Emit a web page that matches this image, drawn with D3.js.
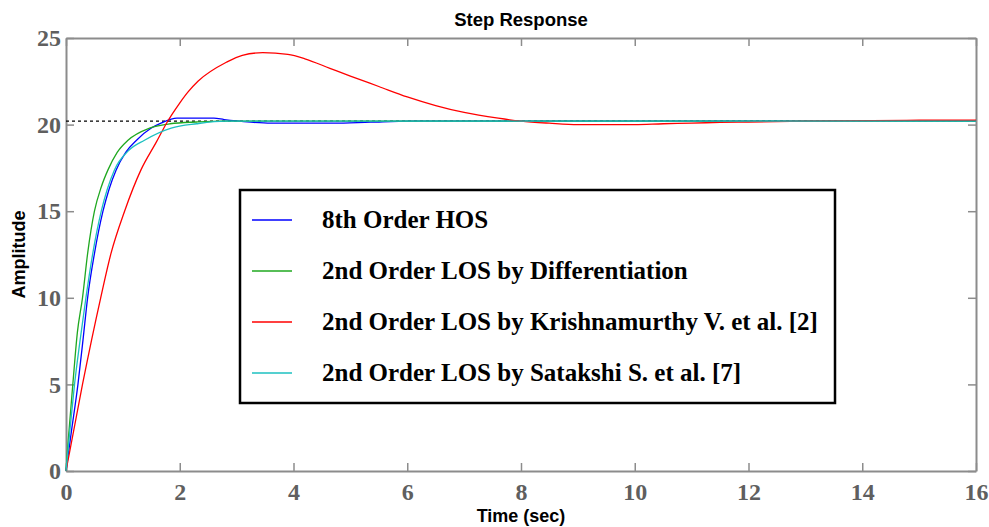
<!doctype html>
<html lang="en">
<head>
<meta charset="utf-8">
<title>Step Response</title>
<script src="https://d3js.org/d3.v7.min.js"></script>
<style>
  body { margin: 0; background: #fff; }
  .tick-label { font-family: "Liberation Serif", "Times New Roman", serif; font-weight: bold; fill: #5f5f5f; }
  .ax-title { font-family: "Liberation Sans", Arial, sans-serif; font-weight: bold; fill: #000; }
  .legend-text { font-family: "Liberation Serif", "Times New Roman", serif; font-weight: bold; fill: #000; }
</style>
</head>
<body>
<svg width="989" height="527"></svg>
<script>
// step responses as [time, amplitude]
const hos8 = [[0,0],[0.1,2.4],[0.21,5.0],[0.3,7.6],[0.38,10.0],[0.5,12.55],[0.65,15.0],[0.76,16.3],
  [0.88,17.37],[1.05,18.4],[1.24,19.1],[1.5,19.8],[1.68,20.1],[1.95,20.37],[2.6,20.37],[2.78,20.29],
  [3.0,20.21],[3.25,20.14],[3.6,20.08],[4.7,20.08],[5.35,20.14],[6.05,20.2],[16,20.2]];
const losDiff = [[0,0],[0.04,1.8],[0.12,5.0],[0.2,8.0],[0.29,10.0],[0.38,12.55],[0.5,15.0],[0.62,16.4],
  [0.74,17.4],[0.9,18.4],[1.09,19.1],[1.47,19.8],[1.83,20.05],[2.3,20.15],[2.76,20.2],[16,20.2]];
const losKrish = [[0,0],[0.29,5.0],[0.61,10.0],[0.79,12.55],[1.03,15.0],[1.32,17.4],[1.59,19.0],
  [1.78,20.15],[1.99,21.2],[2.15,21.9],[2.32,22.5],[2.82,23.6],[3.1,24.0],[3.46,24.15],[3.9,24.05],[4.2,23.8],
  [4.64,23.25],[5.0,22.8],[5.5,22.2],[6.0,21.6],[6.5,21.1],[7.0,20.7],[7.6,20.37],[8.0,20.2],
  [8.5,20.08],[9.0,20.0],[10.0,20.0],[10.5,20.05],[11.0,20.08],[11.5,20.13],[12.0,20.15],[13.0,20.2],
  [15.0,20.25],[16,20.25]];
const losSat = [[0,0],[0.07,2.4],[0.15,5.0],[0.25,7.6],[0.35,10.0],[0.47,12.55],[0.62,15.0],[0.85,17.37],
  [1.1,18.5],[1.38,19.1],[1.85,19.8],[2.3,20.05],[2.8,20.2],[16,20.2]];
const steadyState = 20.2;

const seriesNames = ["8th Order HOS", "2nd Order LOS by Differentiation",
  "2nd Order LOS by Krishnamurthy V. et al. [2]", "2nd Order LOS by Satakshi S. et al. [7]"];
const seriesColors = ["#0000ff", "#1fa81f", "#ff0000", "#1cc0c0"];
const seriesData = [hos8, losDiff, losKrish, losSat];

const xTicks = [0, 2, 4, 6, 8, 10, 12, 14, 16];
const yTicks = [0, 5, 10, 15, 20, 25];

const svg = d3.select("svg");
const plotLeft = 66, plotRight = 976, plotTop = 38, plotBottom = 471;

const x = d3.scaleLinear().domain([0, 16]).range([plotLeft, plotRight]);
const y = d3.scaleLinear().domain([0, 25]).range([plotBottom, plotTop]);

const axisColor = "#8c8c8c";

// ticks on all four sides, pointing inward
const styleAxis = g => {
  g.select(".domain").attr("stroke", axisColor).attr("stroke-width", 2);
  g.selectAll(".tick line").attr("stroke", axisColor).attr("stroke-width", 1.5);
};
svg.append("g").attr("transform", `translate(0,${plotBottom})`)
  .call(d3.axisBottom(x).tickValues(xTicks).tickSizeInner(-8).tickSizeOuter(0).tickPadding(12))
  .call(styleAxis)
  .call(g => g.selectAll(".tick text").attr("class", "tick-label").attr("fill", null)
    .style("font-size", "24px").attr("dy", "0.71em"));
svg.append("g").attr("transform", `translate(0,${plotTop})`)
  .call(d3.axisTop(x).tickValues(xTicks).tickSizeInner(-8).tickSizeOuter(0).tickFormat(""))
  .call(styleAxis);
svg.append("g").attr("transform", `translate(${plotLeft},0)`)
  .call(d3.axisLeft(y).tickValues(yTicks).tickSizeInner(-8).tickSizeOuter(0).tickPadding(5))
  .call(styleAxis)
  .call(g => g.selectAll(".tick text").attr("class", "tick-label").attr("fill", null)
    .style("font-size", "24px"));
svg.append("g").attr("transform", `translate(${plotRight},0)`)
  .call(d3.axisRight(y).tickValues(yTicks).tickSizeInner(-8).tickSizeOuter(0).tickFormat(""))
  .call(styleAxis);

// steady-state reference
svg.append("line")
  .attr("x1", x(0)).attr("x2", x(16))
  .attr("y1", y(steadyState)).attr("y2", y(steadyState))
  .attr("stroke", "#000").attr("stroke-width", 1.2).attr("stroke-dasharray", "3,3");

const line = d3.line()
  .x(d => x(d[0]))
  .y(d => y(d[1]))
  .curve(d3.curveMonotoneX);

seriesData.forEach((data, i) => {
  svg.append("path")
    .datum(data)
    .attr("fill", "none")
    .attr("stroke", seriesColors[i])
    .attr("stroke-width", 1.3)
    .attr("d", line);
});

// titles
svg.append("text").attr("class", "ax-title")
  .attr("x", (plotLeft + plotRight) / 2).attr("y", 26)
  .attr("text-anchor", "middle").style("font-size", "18.5px")
  .text("Step Response");
svg.append("text").attr("class", "ax-title")
  .attr("x", (plotLeft + plotRight) / 2).attr("y", 522)
  .attr("text-anchor", "middle").style("font-size", "18px")
  .text("Time (sec)");
svg.append("text").attr("class", "ax-title")
  .attr("transform", `translate(25,${(plotTop + plotBottom) / 2}) rotate(-90)`)
  .attr("text-anchor", "middle").style("font-size", "18px")
  .text("Amplitude");

// legend
const legend = svg.append("g");
legend.append("rect")
  .attr("x", 240).attr("y", 190).attr("width", 595).attr("height", 213)
  .attr("fill", "#fff").attr("stroke", "#000").attr("stroke-width", 2.5);
seriesNames.forEach((name, i) => {
  const ly = 220 + i * 51;
  legend.append("line")
    .attr("x1", 252).attr("x2", 292).attr("y1", ly).attr("y2", ly)
    .attr("stroke", seriesColors[i]).attr("stroke-width", 1.3);
  legend.append("text").attr("class", "legend-text")
    .attr("x", 322).attr("y", ly + 8).style("font-size", "25px")
    .text(name);
});
</script>
</body>
</html>
